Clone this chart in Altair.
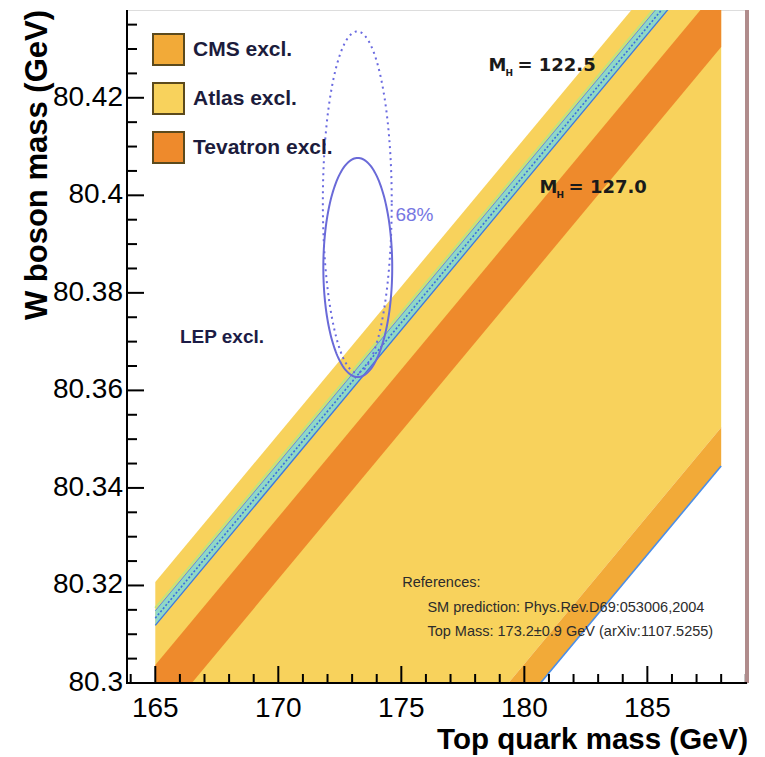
import altair as alt
import numpy as np
import pandas as pd

# ---------------- axis ranges and ticks ----------------
X_DOMAIN = [163.85, 189.05]
Y_DOMAIN = [80.30, 80.438]
X_MAJOR = [165, 170, 175, 180, 185]
Y_MAJOR = [80.30, 80.32, 80.34, 80.36, 80.38, 80.40, 80.42]
X_MINOR = [164, 166, 167, 168, 169, 171, 172, 173, 174, 176, 177, 178, 179,
           181, 182, 183, 184, 186, 187, 188, 189]
Y_MINOR = [80.305, 80.31, 80.315, 80.325, 80.33, 80.335, 80.345, 80.35, 80.355,
           80.365, 80.37, 80.375, 80.385, 80.39, 80.395, 80.405, 80.41, 80.415,
           80.425, 80.43, 80.435]
X_TITLE = "Top quark mass (GeV)"
Y_TITLE = "W boson mass (GeV)"

# ---------------- band edges (W mass at mt = 165 and mt = 188) ----------------
BAND_MT = [165, 188]
CMS_LO = [80.2051, 80.3445]
CMS_HI = [80.2130, 80.3524]
ATLAS_LO = [80.2130, 80.3524]
ATLAS_HI = [80.3207, 80.4601]
TEV_LO = [80.2910, 80.4304]
TEV_HI = [80.3037, 80.4431]
SM_LO = [80.3118, 80.4512]
SM_HI = [80.3148, 80.4542]
SM_MID = [80.3133, 80.4527]
SM_GREEN = [80.3154, 80.4548]

BAND_NAMES = ["CMS excl.", "Atlas excl.", "Tevatron excl."]
BAND_COLORS = ["#F2AA38", "#F8D25C", "#EE8A2C"]

# ---------------- ellipses: centre mt, centre MW, half width, half height ----------------
ELL_SOLID = [173.23, 80.3852, 1.40, 0.02246]
ELL_DOTTED = [173.21, 80.3986, 1.40, 0.0350]

# ---------------- annotation texts ----------------
LEP_TEXT = ["LEP excl."]
LEP_POS = [166.0, 80.371]
MH_MAIN = ["M", "M"]
MH_SUB = ["H", "H"]
MH_VAL = ["= 122.5", "= 127.0"]
MH_MT = [178.54, 180.62]
MH_W = [80.4266, 80.4015]
CL_TEXT = ["68%"]
CL_POS = [174.76, 80.396]
REF_TEXT = ["References:",
            "SM prediction: Phys.Rev.D69:053006,2004",
            "Top Mass: 173.2\u00b10.9 GeV (arXiv:1107.5255)"]
REF_MT = [175.04, 176.06, 176.06]
REF_W = [80.3205, 80.3154, 80.3105]

W, H = 620, 673
FONT = "Liberation Sans"
TICK_MAJOR_PX, TICK_MINOR_PX = 17, 9

xs = alt.Scale(domain=X_DOMAIN, nice=False, zero=False)
ys = alt.Scale(domain=Y_DOMAIN, nice=False, zero=False)
cs = alt.Scale(domain=BAND_NAMES, range=BAND_COLORS)


def xenc(field="mt"):
    return alt.X(f"{field}:Q", scale=xs, axis=None)


def yenc(field="W"):
    return alt.Y(f"{field}:Q", scale=ys, axis=None)


one = pd.DataFrame({"t": [""]})

# ---------------- bands ----------------
rows = []
for name, lo, hi in [("Atlas excl.", ATLAS_LO, ATLAS_HI),
                     ("CMS excl.", CMS_LO, CMS_HI),
                     ("Tevatron excl.", TEV_LO, TEV_HI)]:
    for m, l, h in zip(BAND_MT, lo, hi):
        rows.append({"band": name, "mt": m, "W": l, "W2": h})
bands = pd.DataFrame(rows)

legend = alt.Legend(title=None, orient="none", legendX=25, legendY=23,
                    symbolType="square", symbolSize=961,
                    symbolStrokeColor="#5c4a1c", symbolStrokeWidth=2,
                    symbolOpacity=1,
                    labelFont=FONT, labelFontSize=21, labelFontWeight="bold",
                    labelColor="#1c1c3c", labelOffset=8, rowPadding=10,
                    padding=0, labelLimit=300)


def band_layer(name):
    return (alt.Chart(bands).transform_filter(alt.datum.band == name)
            .mark_area(clip=True, opacity=1).encode(
                x=xenc(), y=yenc(), y2="W2:Q",
                color=alt.Color("band:N", scale=cs, legend=legend)))


atlas = band_layer("Atlas excl.")
cms = band_layer("CMS excl.")
tev = band_layer("Tevatron excl.")

sm = pd.DataFrame({"mt": BAND_MT, "lo": SM_LO, "hi": SM_HI, "mid": SM_MID,
                   "green": SM_GREEN, "cmslo": CMS_LO})
sm_area = alt.Chart(sm).mark_area(clip=True, color="#8fd8c6", opacity=1).encode(
    x=xenc(), y=yenc("lo"), y2="hi:Q")
sm_lo = alt.Chart(sm).mark_line(clip=True, color="#3d78e0", strokeWidth=1.3).encode(
    x=xenc(), y=yenc("lo"))
sm_hi = alt.Chart(sm).mark_line(clip=True, color="#5a8ee6", strokeWidth=1.0).encode(
    x=xenc(), y=yenc("hi"))
sm_mid = alt.Chart(sm).mark_line(clip=True, color="#3a6ee0", strokeWidth=1.6,
                                 strokeDash=[2, 2]).encode(x=xenc(), y=yenc("mid"))
sm_green = alt.Chart(sm).mark_line(clip=True, color="#c4e27c", strokeWidth=2.2).encode(
    x=xenc(), y=yenc("green"))
cms_edge = alt.Chart(sm).mark_line(clip=True, color="#4a8ee8", strokeWidth=1.6).encode(
    x=xenc(), y=yenc("cmslo"))


def ellipse_df(p):
    t = np.linspace(0, 2 * np.pi, 181)
    return pd.DataFrame({"i": np.arange(t.size),
                         "mt": p[0] + p[2] * np.cos(t),
                         "W": p[1] + p[3] * np.sin(t)})


ell_solid = alt.Chart(ellipse_df(ELL_SOLID)).mark_line(
    color="#6a6ad8", strokeWidth=2).encode(x=xenc(), y=yenc(), order="i:Q")
ell_dotted = alt.Chart(ellipse_df(ELL_DOTTED)).mark_line(
    color="#6a6ae0", strokeWidth=2, strokeDash=[2, 4]).encode(
    x=xenc(), y=yenc(), order="i:Q")

lep = alt.Chart(pd.DataFrame({"t": LEP_TEXT, "mt": [LEP_POS[0]], "W": [LEP_POS[1]]})).mark_text(
    align="left", baseline="middle", font=FONT, fontSize=19, fontWeight="bold",
    color="#1c1c46").encode(x=xenc(), y=yenc(), text="t:N")

mh = pd.DataFrame({"m": MH_MAIN, "s": MH_SUB, "v": MH_VAL, "mt": MH_MT, "W": MH_W})
mh_m = alt.Chart(mh).mark_text(align="left", baseline="middle", font="DejaVu Sans",
                               fontSize=18, fontWeight="bold", color="#1a1a1a").encode(
    x=xenc(), y=yenc(), text="m:N")
mh_s = alt.Chart(mh).mark_text(align="left", baseline="middle", font="DejaVu Sans",
                               fontSize=9, fontWeight="bold", color="#1a1a1a",
                               dx=17, dy=7).encode(x=xenc(), y=yenc(), text="s:N")
mh_v = alt.Chart(mh).mark_text(align="left", baseline="middle", font="DejaVu Sans",
                               fontSize=18, fontWeight="bold", color="#1a1a1a",
                               dx=29).encode(x=xenc(), y=yenc(), text="v:N")

cl = alt.Chart(pd.DataFrame({"t": CL_TEXT, "mt": [CL_POS[0]], "W": [CL_POS[1]]})).mark_text(
    align="left", baseline="middle", font=FONT, fontSize=19, color="#7676e2").encode(
    x=xenc(), y=yenc(), text="t:N")

refs = alt.Chart(pd.DataFrame({"t": REF_TEXT, "mt": REF_MT, "W": REF_W})).mark_text(
    align="left", baseline="middle", font=FONT, fontSize=14.5, color="#2c2c2c").encode(
    x=xenc(), y=yenc(), text="t:N")

# ---------------- inward ticks (same form as the version that showed them) ----------------
ytick_major = alt.Chart(pd.DataFrame({"v": Y_MAJOR})).mark_rule(
    color="black", strokeWidth=2).encode(y=alt.Y("v:Q", scale=ys, axis=None),
                                         x=alt.value(0), x2=alt.value(TICK_MAJOR_PX))
ytick_minor = alt.Chart(pd.DataFrame({"v": Y_MINOR})).mark_rule(
    color="black", strokeWidth=2).encode(y=alt.Y("v:Q", scale=ys, axis=None),
                                         x=alt.value(0), x2=alt.value(TICK_MINOR_PX + 1))
xtick_major = alt.Chart(pd.DataFrame({"v": X_MAJOR})).mark_rule(
    color="black", strokeWidth=2).encode(x=alt.X("v:Q", scale=xs, axis=None),
                                         y=alt.value(H), y2=alt.value(H - TICK_MAJOR_PX))
xtick_minor = alt.Chart(pd.DataFrame({"v": X_MINOR})).mark_rule(
    color="black", strokeWidth=2).encode(x=alt.X("v:Q", scale=xs, axis=None),
                                         y=alt.value(H), y2=alt.value(H - TICK_MINOR_PX))

# ---------------- axes drawn as marks: domain lines, labels, titles ----------------
y_domain_line = alt.Chart(one).mark_rule(color="black", strokeWidth=2).encode(
    x=alt.value(0), y=alt.value(0), y2=alt.value(H))
x_domain_line = alt.Chart(one).mark_rule(color="black", strokeWidth=2).encode(
    y=alt.value(H), x=alt.value(-1), x2=alt.value(W))
right_border = alt.Chart(pd.DataFrame({"v": [X_DOMAIN[1]]})).mark_rule(
    color="#b08c8c", strokeWidth=4).encode(x=alt.X("v:Q", scale=xs, axis=None))

ylab = alt.Chart(pd.DataFrame({"v": Y_MAJOR, "lab": [f"{v:g}" for v in Y_MAJOR]})).mark_text(
    align="right", baseline="middle", font=FONT, fontSize=28, color="black", dx=-4).encode(
    y=alt.Y("v:Q", scale=ys, axis=None), x=alt.value(0), text="lab:N")
xlab = alt.Chart(pd.DataFrame({"v": X_MAJOR, "lab": [str(v) for v in X_MAJOR]})).mark_text(
    align="center", baseline="top", font=FONT, fontSize=28, color="black", dy=12).encode(
    x=alt.X("v:Q", scale=xs, axis=None), y=alt.value(H), text="lab:N")
xtitle = alt.Chart(pd.DataFrame({"t": [X_TITLE]})).mark_text(
    align="right", baseline="alphabetic", font=FONT, fontSize=29.5, fontWeight="bold",
    color="black").encode(x=alt.value(W + 1), y=alt.value(H + 66), text="t:N")
ytitle = alt.Chart(pd.DataFrame({"t": [Y_TITLE]})).mark_text(
    align="right", baseline="alphabetic", font=FONT, fontSize=31, fontWeight="bold",
    color="black", angle=270).encode(x=alt.value(-80), y=alt.value(0), text="t:N")

chart = alt.layer(
    atlas, cms, tev, sm_area, sm_green, sm_lo, sm_hi, sm_mid, cms_edge,
    ell_dotted, ell_solid, lep, mh_m, mh_s, mh_v, cl, refs,
    ytick_minor, ytick_major, xtick_minor, xtick_major,
    right_border, y_domain_line, x_domain_line, ylab, xlab, xtitle, ytitle,
).properties(
    width=W, height=H,
    autosize=alt.AutoSizeParams(type="none"),
    padding={"left": 127, "top": 10, "right": 18, "bottom": 74},
).configure_view(
    stroke="#a9a9a9", strokeWidth=4
).configure(background="white")

chart.save("out.html", embed_options={"renderer": "svg", "actions": False})
